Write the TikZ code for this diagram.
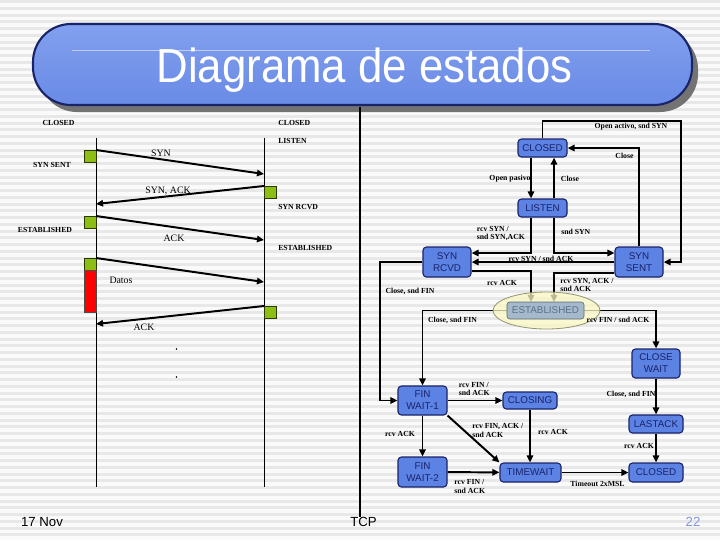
\documentclass[tikz,border=0pt]{standalone}
\usepackage{fontspec}
\usepackage{graphicx}
\usepackage{tikz}
\setmainfont{Liberation Serif}
\setsansfont{Liberation Sans}
\usetikzlibrary{arrows.meta,calc,shapes.geometric}

\definecolor{stateblue}{RGB}{92,130,228}
\definecolor{statenavy}{RGB}{25,35,105}
\definecolor{stripegray}{RGB}{232,232,232}
\definecolor{paper}{RGB}{250,250,250}
\definecolor{okgreen}{RGB}{140,190,20}
\definecolor{estfill}{RGB}{165,185,205}
\definecolor{esttext}{RGB}{90,110,135}
\definecolor{ellfill}{RGB}{250,248,195}
\definecolor{pagenum}{RGB}{130,150,215}

\begin{document}
\begin{tikzpicture}[x=0.025cm,y=-0.025cm,
    state/.style={draw=statenavy, fill=stateblue, rounded corners=2.5pt, line width=0.8pt,
      inner sep=0pt, align=center, text=statenavy, font=\sffamily\fontsize{7}{8.5}\selectfont},
    tag/.style={font=\fontsize{5.5}{6}\selectfont\bfseries, inner sep=0pt},
    msg/.style={font=\fontsize{7}{8}\selectfont, inner sep=0pt},
    flow/.style={line width=1.4pt, -{Triangle[length=5pt,width=4.5pt]}},
    sq/.style={draw=black!70!okgreen, fill=okgreen, line width=0.3pt, minimum size=0.3cm, inner sep=0pt}]
  % Background
  \useasboundingbox (0,0) rectangle (720,540);
  \fill[paper] (0,0) rectangle (720,540);
  \foreach \i in {0,...,79}
    \fill[stripegray] (0,\i*6.75) rectangle (720,\i*6.75+3);

  % Title
  \fill[black!55, rounded corners=27pt] (39,31) rectangle (698,112);
  \draw[draw=statenavy, line width=1.5pt, rounded corners=27pt,
    top color={rgb,255:red,130;green,160;blue,238}, middle color={rgb,255:red,78;green,112;blue,218},
    bottom color={rgb,255:red,105;green,138;blue,230}] (33,24) rectangle (692,105);
  \draw[white!60!stateblue, line width=0.6pt] (72,50) -- (650,50);
  \node[text=white, font=\sffamily\fontsize{34}{36}\selectfont] (title) at (364.5,70)
    {\scalebox{0.915}[1]{Diagrama de estados}};
  \draw[line width=2.1pt] (360,107) -- (360,517);

  % Time diagram
  \coordinate (atop) at (96,138);
  \coordinate (abot) at (96,487);
  \coordinate (btop) at (264,138);
  \coordinate (bbot) at (264,487);
  \draw[line width=0.7pt] (atop) -- (abot);
  \draw[line width=0.7pt] (btop) -- (bbot);

  \node[tag] (aclosed) at (58.5,123) {CLOSED};
  \node[tag, anchor=west] (bclosed) at (278,123) {CLOSED};
  \node[tag, anchor=west] (blisten) at (278,141) {LISTEN};
  \node[tag] (asynsent) at (52,165) {SYN SENT};
  \node[tag, anchor=west] (bsynrcvd) at (278,207) {SYN RCVD};
  \node[tag] (aest) at (45,230) {ESTABLISHED};
  \node[tag, anchor=west] (best) at (278,248) {ESTABLISHED};

  \node[sq, anchor=north east] (a1) at (96,150) {};
  \node[sq, anchor=north west] (b1) at (264,186) {};
  \node[sq, anchor=north east] (a2) at (96,216) {};
  \node[sq, anchor=north east] (a3) at (96,258) {};
  \node[draw=black!70, fill=red, line width=0.3pt, minimum width=0.3cm, minimum height=1.05cm,
    inner sep=0pt, anchor=north] (a4) at (a3.south) {};
  \node[sq, anchor=north west] (b2) at (264,306) {};

  \coordinate (s1) at (264,174);
  \coordinate (s2) at (96,204);
  \coordinate (s3) at (264,240);
  \coordinate (s4) at (264,282);
  \coordinate (s5) at (96,324);
  \draw[flow] (a1.north east) -- (s1);
  \draw[flow] (b1.north west) -- (s2);
  \draw[flow] (a2.north east) -- (s3);
  \draw[flow] (a3.north east) -- (s4);
  \draw[flow] (b2.north west) -- (s5);
  \node[msg] (msyn) at (161,153) {SYN};
  \node[msg] (msynack) at (168,191) {SYN, ACK};
  \node[msg] (mack) at (174,238) {ACK};
  \node[msg] (mdatos) at (121,280) {Datos};
  \node[msg] (mack2) at (144,327) {ACK};
  \fill (176.5,349) circle (0.7pt);
  \fill (176.5,377) circle (0.7pt);

  % State diagram
  \node[state, minimum width=1.225cm, minimum height=0.45cm] (closed) at (542.5,148) {CLOSED};
  \node[state, minimum width=1.225cm, minimum height=0.45cm] (listen) at (542.5,208) {LISTEN};
  \node[state, minimum width=1.2cm, minimum height=0.75cm] (synrcvd) at (447,262) {SYN\\RCVD};
  \node[state, minimum width=1.2cm, minimum height=0.75cm] (synsent) at (639,262) {SYN\\SENT};
  \node[state, minimum width=1.2cm, minimum height=0.725cm] (closewait) at (656,363.5) {CLOSE\\WAIT};
  \node[state, minimum width=1.225cm, minimum height=0.725cm] (finwait1) at (422.5,400.5) {FIN\\WAIT-1};
  \node[state, minimum width=1.35cm, minimum height=0.425cm] (closing) at (530,400.5) {CLOSING};
  \node[state, minimum width=1.35cm, minimum height=0.45cm] (lastack) at (656,424) {LASTACK};
  \node[state, minimum width=1.225cm, minimum height=0.75cm] (finwait2) at (422.5,472) {FIN\\WAIT-2};
  \node[state, minimum width=1.525cm, minimum height=0.475cm] (timewait) at (530.5,472.5) {TIMEWAIT};
  \node[state, minimum width=1.35cm, minimum height=0.475cm] (closedb) at (656,472.5) {CLOSED};
  \coordinate (topright) at (681,121);
  \coordinate (est) at (545.5,310.5);
  \coordinate (estn) at (545.5,302);
  \coordinate (estw) at (507,310.5);
  \coordinate (este) at (584,310.5);

  \node[tag] (lbl7) at (541,258.5) {rcv SYN / snd ACK};
  \draw[flow] (closed.north) |- (topright) |- (synsent.east);
  \draw[flow] (synsent.north) |- (closed.east);
  \draw[flow] ($(closed.south)+(-11.5,0)$) -- ($(listen.north)+(-11.5,0)$);
  \draw[flow] ($(listen.north)+(11.5,0)$) -- ($(closed.south)+(11.5,0)$);
  \draw[flow] ($(listen.south)+(-11.5,0)$) |- ($(synrcvd.east)+(0,-9)$);
  \draw[flow] ($(listen.south)+(11.5,0)$) |- ($(synsent.west)+(0,-9)$);
  \draw[flow] (synsent.west) -- (synrcvd.east);
  \draw[flow] ($(synrcvd.east)+(0,9)$) -| ($(estn)+(-14.5,0)$);
  \draw[flow] ($(synsent.west)+(0,11)$) -| ($(estn)+(8.5,0)$);
  \draw[flow] (synrcvd.west) -- ++(-42,0) |- (finwait1.west);
  \draw[flow] (estw) -| (finwait1.north);
  \draw[flow] (este) -| (closewait.north);
  \draw[flow] (closewait) -- (lastack);
  \draw[flow] (finwait1) -- (closing);
  \draw[flow] (finwait1) -- (finwait2);
  \draw[flow] (finwait1.south east) -- (timewait.north west);
  \draw[flow] (closing.south) -- (closing.south |- timewait.north);
  \draw[flow] (lastack) -- (closedb);
  \draw[flow] (finwait2) -- (timewait);
  \draw[flow] (timewait) -- (closedb);

  % ESTABLISHED
  \node[ellipse, draw=black!40!ellfill, fill=ellfill, fill opacity=0.75, line width=0.6pt,
    minimum width=2.675cm, minimum height=0.925cm] (estbg) at (546.5,310.5) {};
  \node[draw=black!45!estfill, fill=estfill, rounded corners=2pt, inner sep=0pt, text=esttext,
    minimum width=1.925cm, minimum height=0.425cm, font=\sffamily\fontsize{7}{8.5}\selectfont]
    (established) at (est) {ESTABLISHED};

  % Labels
  \node[tag] (lbl1) at (631,127) {Open activo, snd SYN};
  \node[tag] (lbl2) at (624.5,156) {Close};
  \node[tag] (lbl3) at (510,179) {Open pasivo};
  \node[tag] (lbl4) at (570,179) {Close};
  \node[tag, anchor=west, align=left] (lbl5) at (476.5,233.5) {rcv SYN /\\snd SYN,ACK};
  \node[tag, anchor=west] (lbl6) at (561,232) {snd SYN};
  \node[tag] (lbl8) at (502,283) {rcv ACK};
  \node[tag, anchor=west, align=left] (lbl9) at (560,285) {rcv SYN, ACK /\\snd ACK};
  \node[tag] (lbl10) at (410,291) {Close, snd FIN};
  \node[tag] (lbl11) at (452.5,320) {Close, snd FIN};
  \node[tag] (lbl12) at (618,320) {rcv FIN / snd ACK};
  \node[tag] (lbl13) at (631,394) {Close, snd FIN};
  \node[tag, anchor=west, align=left] (lbl14) at (458.5,389) {rcv FIN /\\snd ACK};
  \node[tag] (lbl15) at (400,434) {rcv ACK};
  \node[tag, anchor=west, align=left] (lbl16) at (472,430.5) {rcv FIN, ACK /\\snd ACK};
  \node[tag] (lbl17) at (553,432) {rcv ACK};
  \node[tag] (lbl18) at (639,446) {rcv ACK};
  \node[tag, anchor=west, align=left] (lbl19) at (454,486.5) {rcv FIN /\\snd ACK};
  \node[tag] (lbl20) at (597.5,484) {Timeout 2xMSL};

  % Footer
  \node[font=\sffamily\fontsize{9.4}{11}\selectfont] (date) at (42,522) {17 Nov};
  \node[font=\sffamily\fontsize{9.4}{11}\selectfont] (topic) at (363.5,522) {TCP};
  \node[font=\sffamily\fontsize{9.4}{11}\selectfont, text=pagenum] (page) at (693,522) {22};
\end{tikzpicture}
\end{document}
